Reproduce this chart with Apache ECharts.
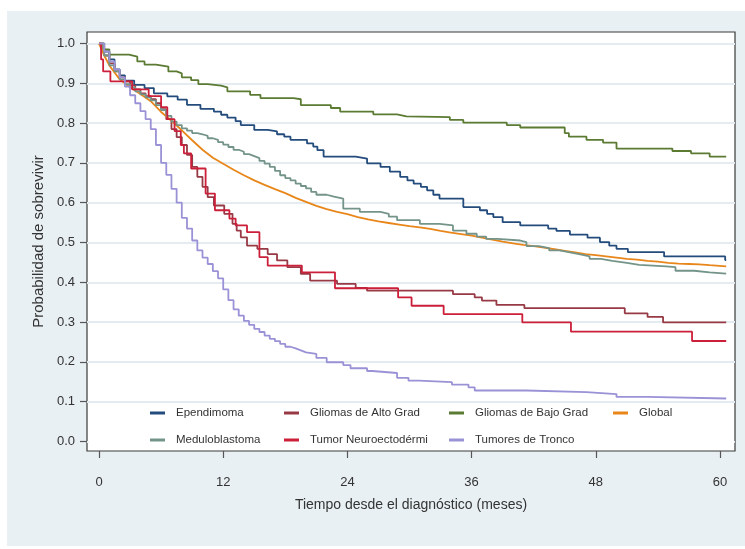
<!DOCTYPE html>
<html>
<head>
<meta charset="utf-8">
<script src="https://cdn.jsdelivr.net/npm/echarts@6/dist/echarts.min.js"></script>
<style>
html,body{margin:0;padding:0;background:#fff;}
#chart{width:745px;height:549px;}
</style>
</head>
<body>
<div id="chart"></div>
<script>
// ---- data (time in months, survival probability) ----
const xTicks = [0, 12, 24, 36, 48, 60];
const yTicks = [0, 0.1, 0.2, 0.3, 0.4, 0.5, 0.6, 0.7, 0.8, 0.9, 1.0];
const seriesNames = ['Ependimoma', 'Gliomas de Alto Grad', 'Gliomas de Bajo Grad', 'Global',
  'Meduloblastoma', 'Tumor Neuroectodérmi', 'Tumores de Tronco'];
const xTitle = 'Tiempo desde el diagnóstico (meses)';
const yTitle = 'Probabilidad de sobrevivir';

const ependimoma = [[0,1],[0.5,0.98],[1,0.96],[1.5,0.935],[2,0.92],[2.5,0.907],[3.4,0.896],[4.4,0.888],[5.3,0.875],[6.6,0.867],[7.6,0.859],[8.5,0.846],[9.8,0.836],[11.1,0.829],[11.8,0.821],[12.4,0.814],[13.2,0.805],[13.7,0.795],[15.0,0.783],[16.3,0.779],[17.2,0.772],[17.9,0.766],[18.5,0.758],[20.1,0.749],[20.7,0.741],[21.1,0.732],[21.7,0.716],[24.8,0.711],[25.9,0.699],[27.2,0.690],[28.1,0.678],[29.1,0.665],[29.8,0.656],[30.4,0.648],[31.1,0.64],[31.7,0.631],[32.3,0.62],[32.9,0.61],[35.2,0.589],[36.8,0.581],[37.5,0.572],[38.1,0.564],[39.0,0.551],[40.7,0.543],[43.4,0.535],[44.2,0.529],[45.5,0.520],[47.2,0.512],[48.4,0.501],[49.3,0.492],[50.0,0.484],[51.1,0.476],[54.6,0.465],[60.5,0.456],[60.6,0.456]];

const gliomasAlto = [[0,1],[0.5,0.97],[1,0.95],[1.5,0.93],[2,0.915],[2.5,0.905],[3,0.895],[3.5,0.885],[4,0.875],[4.5,0.868],[5,0.86],[5.5,0.85],[6,0.835],[6.5,0.81],[7,0.785],[7.5,0.765],[8,0.745],[8.5,0.72],[9,0.69],[9.5,0.665],[10,0.64],[10.5,0.614],[11.1,0.593],[12.1,0.572],[12.9,0.547],[13.3,0.53],[13.7,0.513],[14.3,0.492],[15.3,0.484],[16.3,0.471],[17.2,0.455],[18.2,0.438],[19.5,0.421],[20.4,0.404],[23.0,0.396],[24.8,0.386],[25.9,0.379],[34.2,0.370],[36.3,0.362],[37.0,0.354],[38.4,0.343],[41.1,0.335],[50.8,0.322],[53.0,0.313],[54.5,0.299],[60.6,0.299]];

const gliomasBajo = [[0,1],[0.4,0.985],[1.0,0.972],[2.9,0.967],[3.7,0.955],[4.4,0.947],[5.5,0.942],[6.7,0.93],[7.5,0.925],[8.0,0.915],[8.9,0.908],[9.6,0.898],[10.5,0.894],[11.8,0.89],[12.4,0.88],[14.6,0.871],[15.6,0.863],[18.8,0.86],[19.5,0.845],[22.4,0.838],[23.3,0.829],[26.5,0.822],[28.8,0.817],[29.7,0.815],[33.9,0.808],[35.2,0.801],[39.4,0.795],[40.7,0.789],[45.0,0.775],[45.4,0.766],[47.1,0.758],[48.7,0.751],[50.0,0.736],[55.4,0.730],[57.2,0.724],[59.0,0.716],[60.6,0.716]];

const globalSurv = [[0,1],[0.5,0.97],[1,0.945],[2,0.91],[3,0.89],[4,0.873],[5,0.855],[6,0.828],[7,0.806],[8,0.782],[9,0.757],[10,0.733],[11,0.713],[12,0.698],[13,0.683],[14,0.669],[15,0.656],[16,0.645],[17,0.634],[18,0.624],[19,0.612],[20,0.602],[21,0.592],[22,0.584],[23,0.577],[24,0.571],[25,0.564],[26,0.558],[27,0.553],[28,0.549],[29,0.545],[30,0.541],[31,0.538],[32,0.534],[33,0.529],[34,0.525],[35,0.521],[36,0.517],[37,0.512],[38,0.507],[39,0.502],[40,0.498],[41,0.494],[42,0.491],[43,0.487],[44,0.483],[45,0.479],[46,0.475],[47,0.471],[48,0.468],[49,0.465],[50,0.462],[51,0.459],[52,0.457],[53,0.454],[54,0.452],[55,0.449],[56,0.447],[57,0.446],[58,0.445],[59,0.443],[60.6,0.44]];

const meduloblastoma = [[0,1],[0.5,0.97],[1,0.945],[1.5,0.93],[2,0.91],[2.5,0.898],[3,0.89],[3.5,0.88],[4,0.872],[4.5,0.865],[5,0.857],[5.5,0.845],[6,0.833],[6.5,0.818],[7,0.804],[7.5,0.795],[8,0.787],[8.5,0.781],[9,0.775],[9.5,0.772],[10,0.768],[10.5,0.762],[11,0.758],[11.5,0.752],[12,0.746],[12.5,0.74],[13,0.733],[13.5,0.728],[14,0.722],[14.5,0.717],[15,0.712],[15.5,0.705],[16,0.698],[16.5,0.69],[17,0.68],[17.5,0.669],[18,0.662],[18.5,0.656],[19,0.648],[19.5,0.642],[20,0.636],[20.5,0.627],[21,0.62],[22,0.615],[22.7,0.61],[23.6,0.585],[25.2,0.577],[27.2,0.572],[28,0.565],[28.8,0.556],[31,0.547],[32.9,0.543],[34.2,0.53],[35.5,0.522],[36.5,0.515],[37.4,0.509],[38.5,0.505],[40.7,0.501],[41.3,0.491],[42.5,0.486],[43.5,0.48],[44.5,0.475],[45.5,0.47],[46.5,0.465],[47.4,0.459],[48.5,0.454],[49.6,0.449],[51,0.444],[52.2,0.44],[54.8,0.438],[55.7,0.429],[57.5,0.425],[59,0.422],[60.6,0.422]];

const tumorNeuro = [[0,1],[0.2,0.96],[0.4,0.93],[1.1,0.905],[3.2,0.885],[4.8,0.868],[6.0,0.84],[6.6,0.81],[7.3,0.78],[7.9,0.745],[8.2,0.724],[8.9,0.686],[10.3,0.623],[11.2,0.581],[12.6,0.56],[13.2,0.543],[14.3,0.526],[15.5,0.463],[16.3,0.442],[19.6,0.425],[22.8,0.385],[28.9,0.362],[30.2,0.341],[33.3,0.320],[40.9,0.299],[45.6,0.276],[57.3,0.2525],[60.6,0.2525]];

const tumoresTronco = [[0,1],[0.5,0.98],[1,0.955],[1.5,0.935],[2,0.915],[2.5,0.892],[3,0.87],[3.5,0.85],[4,0.83],[4.5,0.81],[5,0.785],[5.5,0.745],[6,0.70],[6.5,0.67],[7,0.635],[7.5,0.60],[8,0.562],[8.5,0.535],[9,0.505],[9.5,0.48],[10,0.462],[10.5,0.446],[11,0.428],[11.5,0.41],[12,0.382],[12.5,0.355],[13,0.332],[13.5,0.316],[14,0.303],[14.5,0.293],[15,0.283],[15.5,0.275],[16,0.266],[16.5,0.258],[17,0.252],[17.5,0.245],[18,0.238],[18.5,0.234],[19,0.229],[19.5,0.224],[20,0.22],[21,0.21],[22,0.199],[23.6,0.192],[24.3,0.184],[25.9,0.177],[26.4,0.172],[28.8,0.16],[29.9,0.153],[30.9,0.149],[34.1,0.143],[35.7,0.136],[36.3,0.128],[41.3,0.124],[47.1,0.119],[50,0.112],[53,0.108],[60.6,0.108]];

// ---- chart ----
const FONT = "'Liberation Sans', Arial, Helvetica, sans-serif";
const colors = ['#234c7c', '#973a45', '#5b7b33', '#e8861a', '#74948a', '#cc1f3a', '#9a92d6'];
const dataList = [ependimoma, gliomasAlto, gliomasBajo, globalSurv, meduloblastoma, tumorNeuro, tumoresTronco];
const stepped = [true, true, true, false, true, true, true];

const series = seriesNames.map((name, i) => ({
  name: name,
  type: 'line',
  data: dataList[i],
  step: stepped[i] ? 'end' : false,
  showSymbol: false,
  symbol: 'none',
  clip: true,
  lineStyle: { color: colors[i], width: 1.8 },
  itemStyle: { color: colors[i] },
  emphasis: { disabled: true },
  animation: false
}));

function legendCol(names, left) {
  return {
    orient: 'vertical',
    left: left,
    top: 406,
    padding: 0,
    itemGap: 13,
    itemWidth: 15,
    itemHeight: 3,
    icon: 'rect',
    data: names,
    selectedMode: false,
    textStyle: { fontFamily: FONT, fontSize: 11.5, color: '#333', lineHeight: 14, padding: [0, 0, 0, 6] }
  };
}

const chart = echarts.init(document.getElementById('chart'), null, { renderer: 'canvas' });
chart.setOption({
  backgroundColor: '#ffffff',
  animation: false,
  color: colors,
  graphic: [
    { type: 'rect', z: -100, shape: { x: 7, y: 11, width: 738, height: 535 }, style: { fill: '#e9f0f3' } },
    { type: 'rect', z: 1, shape: { x: 88.5, y: 404, width: 645.5, height: 46 }, style: { fill: '#ffffff' } }
  ],
  grid: {
    left: 87, right: 10, top: 32, bottom: 98,
    show: true, backgroundColor: '#ffffff', borderColor: '#3a3a3a', borderWidth: 1.2,
    containLabel: false
  },
  legend: [
    legendCol([seriesNames[0], seriesNames[4]], 150),
    legendCol([seriesNames[1], seriesNames[5]], 284),
    legendCol([seriesNames[2], seriesNames[6]], 449),
    legendCol([seriesNames[3]], 613)
  ],
  xAxis: {
    type: 'value',
    min: -1.16, max: 61.45,
    name: xTitle,
    nameLocation: 'middle',
    nameGap: 47,
    nameTextStyle: { fontFamily: FONT, fontSize: 14, color: '#333' },
    axisLine: { show: false, onZero: false },
    axisTick: { show: true, inside: false, length: 7, customValues: xTicks, lineStyle: { color: '#555', width: 1.2 } },
    axisLabel: { show: true, customValues: xTicks, margin: 25, fontFamily: FONT, fontSize: 13, color: '#333' },
    splitLine: { show: false }
  },
  yAxis: {
    type: 'value',
    min: -0.024, max: 1.029,
    name: yTitle,
    nameLocation: 'middle',
    nameGap: 41,
    nameRotate: 90,
    nameTextStyle: { fontFamily: FONT, fontSize: 15, color: '#333' },
    axisLine: { show: false, onZero: false },
    axisTick: { show: true, inside: false, length: 7, customValues: yTicks, lineStyle: { color: '#555', width: 1.2 } },
    axisLabel: { show: true, customValues: yTicks, margin: 12, fontFamily: FONT, fontSize: 13, color: '#333',
      formatter: v => Number(v).toFixed(1) },
    splitLine: { show: true, lineStyle: { color: '#e4ecf1', width: 2 } }
  },
  series: series
});
</script>
</body>
</html>
